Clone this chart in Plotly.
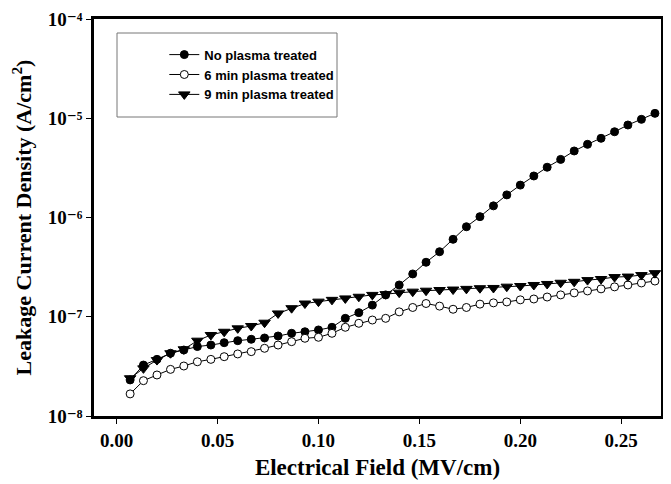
import plotly.graph_objects as go

# Electrical field (MV/cm)
field = [0.0067, 0.0133, 0.0200, 0.0267, 0.0333, 0.0400, 0.0467, 0.0533, 0.0600, 0.0667,
         0.0733, 0.0800, 0.0867, 0.0933, 0.1000, 0.1067, 0.1133, 0.1200, 0.1267, 0.1333,
         0.1400, 0.1467, 0.1533, 0.1600, 0.1667, 0.1733, 0.1800, 0.1867, 0.1933, 0.2000,
         0.2067, 0.2133, 0.2200, 0.2267, 0.2333, 0.2400, 0.2467, 0.2533, 0.2600, 0.2667]

# Leakage current density (A/cm^2)
no_plasma = [2.31e-8, 3.26e-8, 3.72e-8, 4.29e-8, 4.62e-8, 5.01e-8, 5.19e-8, 5.48e-8, 5.74e-8, 5.93e-8,
             6.11e-8, 6.40e-8, 6.81e-8, 7.06e-8, 7.36e-8, 7.83e-8, 9.64e-8, 1.10e-7, 1.31e-7, 1.66e-7,
             2.09e-7, 2.70e-7, 3.54e-7, 4.52e-7, 6.03e-7, 8.07e-7, 1.02e-6, 1.31e-6, 1.69e-6, 2.12e-6,
             2.62e-6, 3.21e-6, 3.85e-6, 4.68e-6, 5.46e-6, 6.28e-6, 7.31e-6, 8.55e-6, 9.75e-6, 1.12e-5]

plasma_6min = [1.67e-8, 2.27e-8, 2.59e-8, 2.95e-8, 3.19e-8, 3.52e-8, 3.72e-8, 3.96e-8, 4.22e-8, 4.45e-8,
               4.81e-8, 5.19e-8, 5.61e-8, 6.07e-8, 6.21e-8, 6.81e-8, 7.83e-8, 8.59e-8, 9.27e-8, 9.64e-8,
               1.12e-7, 1.24e-7, 1.36e-7, 1.28e-7, 1.19e-7, 1.24e-7, 1.34e-7, 1.38e-7, 1.41e-7, 1.48e-7,
               1.51e-7, 1.58e-7, 1.66e-7, 1.74e-7, 1.82e-7, 1.91e-7, 2.00e-7, 2.09e-7, 2.19e-7, 2.29e-7]

plasma_9min = [2.40e-8, 3.02e-8, 3.66e-8, 4.29e-8, 4.70e-8, 5.74e-8, 6.55e-8, 7.06e-8, 7.64e-8, 8.07e-8,
               8.71e-8, 1.08e-7, 1.22e-7, 1.36e-7, 1.42e-7, 1.48e-7, 1.53e-7, 1.59e-7, 1.66e-7, 1.69e-7,
               1.75e-7, 1.79e-7, 1.83e-7, 1.86e-7, 1.88e-7, 1.91e-7, 1.94e-7, 1.95e-7, 2.01e-7, 2.04e-7,
               2.09e-7, 2.14e-7, 2.20e-7, 2.25e-7, 2.34e-7, 2.40e-7, 2.51e-7, 2.54e-7, 2.63e-7, 2.75e-7]

series_names = ["No plasma treated", "6 min plasma treated", "9 min plasma treated"]

x_ticks = [0.0, 0.05, 0.10, 0.15, 0.20, 0.25]
x_tick_labels = ["0.00", "0.05", "0.10", "0.15", "0.20", "0.25"]
y_ticks = [1e-8, 1e-7, 1e-6, 1e-5, 1e-4]
y_tick_labels = ["10\u207b\u2078", "10\u207b\u2077", "10\u207b\u2076", "10\u207b\u2075", "10\u207b\u2074"]

SERIF = "Liberation Serif, Times New Roman, DejaVu Serif, serif"
SANS = "Liberation Sans, Arial, sans-serif"

# page body keeps the browser's default 8 px margin, so the figure is 8 px smaller
W, H = 663, 476
L, R, T, B = 86, 10, 11, 68
PW, PH = W - L - R, H - T - B

fig = go.Figure()
styles = [
    dict(symbol="circle", size=8, color="black", line=dict(color="black", width=1)),
    dict(symbol="circle", size=8, color="white", line=dict(color="black", width=1)),
    dict(symbol="triangle-down", size=10, color="black", line=dict(color="black", width=1)),
]
for name, ys, mk in zip(series_names, [no_plasma, plasma_6min, plasma_9min], styles):
    fig.add_trace(go.Scatter(x=field, y=ys, mode="lines+markers", name=name,
                             line=dict(color="black", width=1), marker=mk))

fig.update_layout(
    width=W, height=H,
    margin=dict(l=L, r=R, t=T, b=B, pad=0, autoexpand=False),
    paper_bgcolor="white", plot_bgcolor="white",
    showlegend=True,
    legend=dict(x=0.124, y=0.948, xanchor="left", yanchor="top",
                bgcolor="rgba(0,0,0,0)", borderwidth=0,
                font=dict(family=SANS, size=13, color="black", weight="bold"),
                tracegroupgap=0, itemwidth=30),
    shapes=[dict(type="rect", xref="paper", yref="paper",
                 x0=23 / PW, x1=243 / PW,
                 y0=299 / PH, y1=383 / PH,
                 line=dict(color="#777777", width=1), fillcolor="white", layer="below")],
)

fig.update_xaxes(
    range=[-0.0112, 0.2697], tickvals=x_ticks, ticktext=x_tick_labels,
    showline=True, linewidth=2.5, linecolor="black", mirror=True,
    ticks="outside", ticklen=5, tickwidth=1, tickcolor="black",
    showgrid=False, zeroline=False, automargin=False,
    tickfont=dict(family=SERIF, size=19, color="black", weight="bold"),
    title=dict(text="Electrical Field (MV/cm)", standoff=10,
               font=dict(family=SERIF, size=23, color="black", weight="bold")),
)
fig.update_yaxes(
    type="log", range=[-8, -4], tickvals=y_ticks, ticktext=y_tick_labels,
    showline=True, linewidth=2.5, linecolor="black", mirror=True,
    ticks="outside", ticklen=5, tickwidth=1, tickcolor="black",
    showgrid=False, zeroline=False, automargin=False, ticklabeloverflow="allow",
    tickfont=dict(family=SERIF, size=19, color="black", weight="bold"),
    title=dict(text="Leakage Current Density (A/cm<sup>2</sup>)", standoff=14,
               font=dict(family=SERIF, size=22, color="black", weight="bold")),
)

fig.write_html("out.html")
